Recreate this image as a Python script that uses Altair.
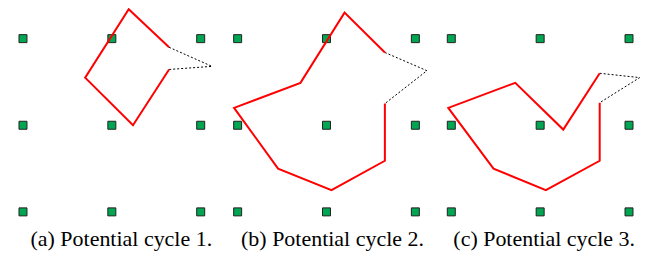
import altair as alt
import pandas as pd

# grid of nodes (data units)
grid_x = [0, 1, 2]
grid_y = [0, 1, 2]

captions = ["(a) Potential cycle 1.", "(b) Potential cycle 2.", "(c) Potential cycle 3."]

# red (solid) part of each cycle
red_x = [
    [1.644, 1.238, 0.70, 1.19, 1.644],
    [1.657, 1.657, 1.056, 0.455, -0.04, 0.707, 1.203, 1.657],
    [1.67, 1.67, 1.064, 0.475, -0.034, 0.72, 1.26, 1.67],
]
red_y = [
    [1.644, 1.00, 1.55, 2.34, 1.90],
    [1.25, 0.59, 0.25, 0.50, 1.20, 1.49, 2.30, 1.84],
    [1.26, 0.59, 0.25, 0.50, 1.20, 1.49, 0.95, 1.60],
]
# dotted (potential) part of each cycle
dot_x = [
    [1.644, 2.127, 1.644],
    [1.657, 2.13, 1.657],
    [1.67, 2.12, 1.67],
]
dot_y = [
    [1.90, 1.68, 1.644],
    [1.84, 1.63, 1.25],
    [1.60, 1.55, 1.26],
]

panel_widths = [215, 214, 204]
caption_dx = [6, 3, 6]
H = 215
PX_X = 89.0
PX_Y = 86.75
Y_MAX = 203.5 / PX_Y
Y_MIN = Y_MAX - H / PX_Y

grid_df = pd.DataFrame([(gx, gy) for gx in grid_x for gy in grid_y], columns=["x", "y"])

panels = []
for i in range(3):
    W = panel_widths[i]
    xs = alt.Scale(domain=[-15 / PX_X, (W - 15) / PX_X], nice=False, zero=False)
    ys = alt.Scale(domain=[Y_MIN, Y_MAX], nice=False, zero=False)
    red_df = pd.DataFrame({"x": red_x[i], "y": red_y[i], "o": list(range(len(red_x[i])))})
    dot_df = pd.DataFrame({"x": dot_x[i], "y": dot_y[i], "o": list(range(len(dot_x[i])))})

    pts = alt.Chart(grid_df).mark_square(
        size=64, fill="#00a651", stroke="#222222", strokeWidth=1, opacity=1, filled=True, clip=False
    ).encode(
        x=alt.X("x:Q", scale=xs, axis=None),
        y=alt.Y("y:Q", scale=ys, axis=None),
    )
    dots = alt.Chart(dot_df).mark_line(
        color="black", strokeWidth=1, strokeDash=[2, 2], clip=False
    ).encode(
        x=alt.X("x:Q", scale=xs, axis=None),
        y=alt.Y("y:Q", scale=ys, axis=None),
        order="o:Q",
    )
    red = alt.Chart(red_df).mark_line(
        color="#ff0000", strokeWidth=2, clip=False
    ).encode(
        x=alt.X("x:Q", scale=xs, axis=None),
        y=alt.Y("y:Q", scale=ys, axis=None),
        order="o:Q",
    )
    panel = alt.layer(pts, dots, red).properties(
        width=W,
        height=H,
        title=alt.TitleParams(
            text=captions[i],
            orient="bottom",
            anchor="middle",
            font="Liberation Serif, Times New Roman, DejaVu Serif, serif",
            fontSize=22,
            fontWeight="normal",
            color="black",
            baseline="alphabetic",
            offset=23,
            dx=caption_dx[i],
        ),
    )
    panels.append(panel)

chart = alt.hconcat(*panels, spacing=0).properties(
    padding={"top": -3.5, "left": 0, "right": 0, "bottom": 0}
).configure_view(stroke=None)

chart.save("out.html", embed_options={"renderer": "svg", "actions": False})
